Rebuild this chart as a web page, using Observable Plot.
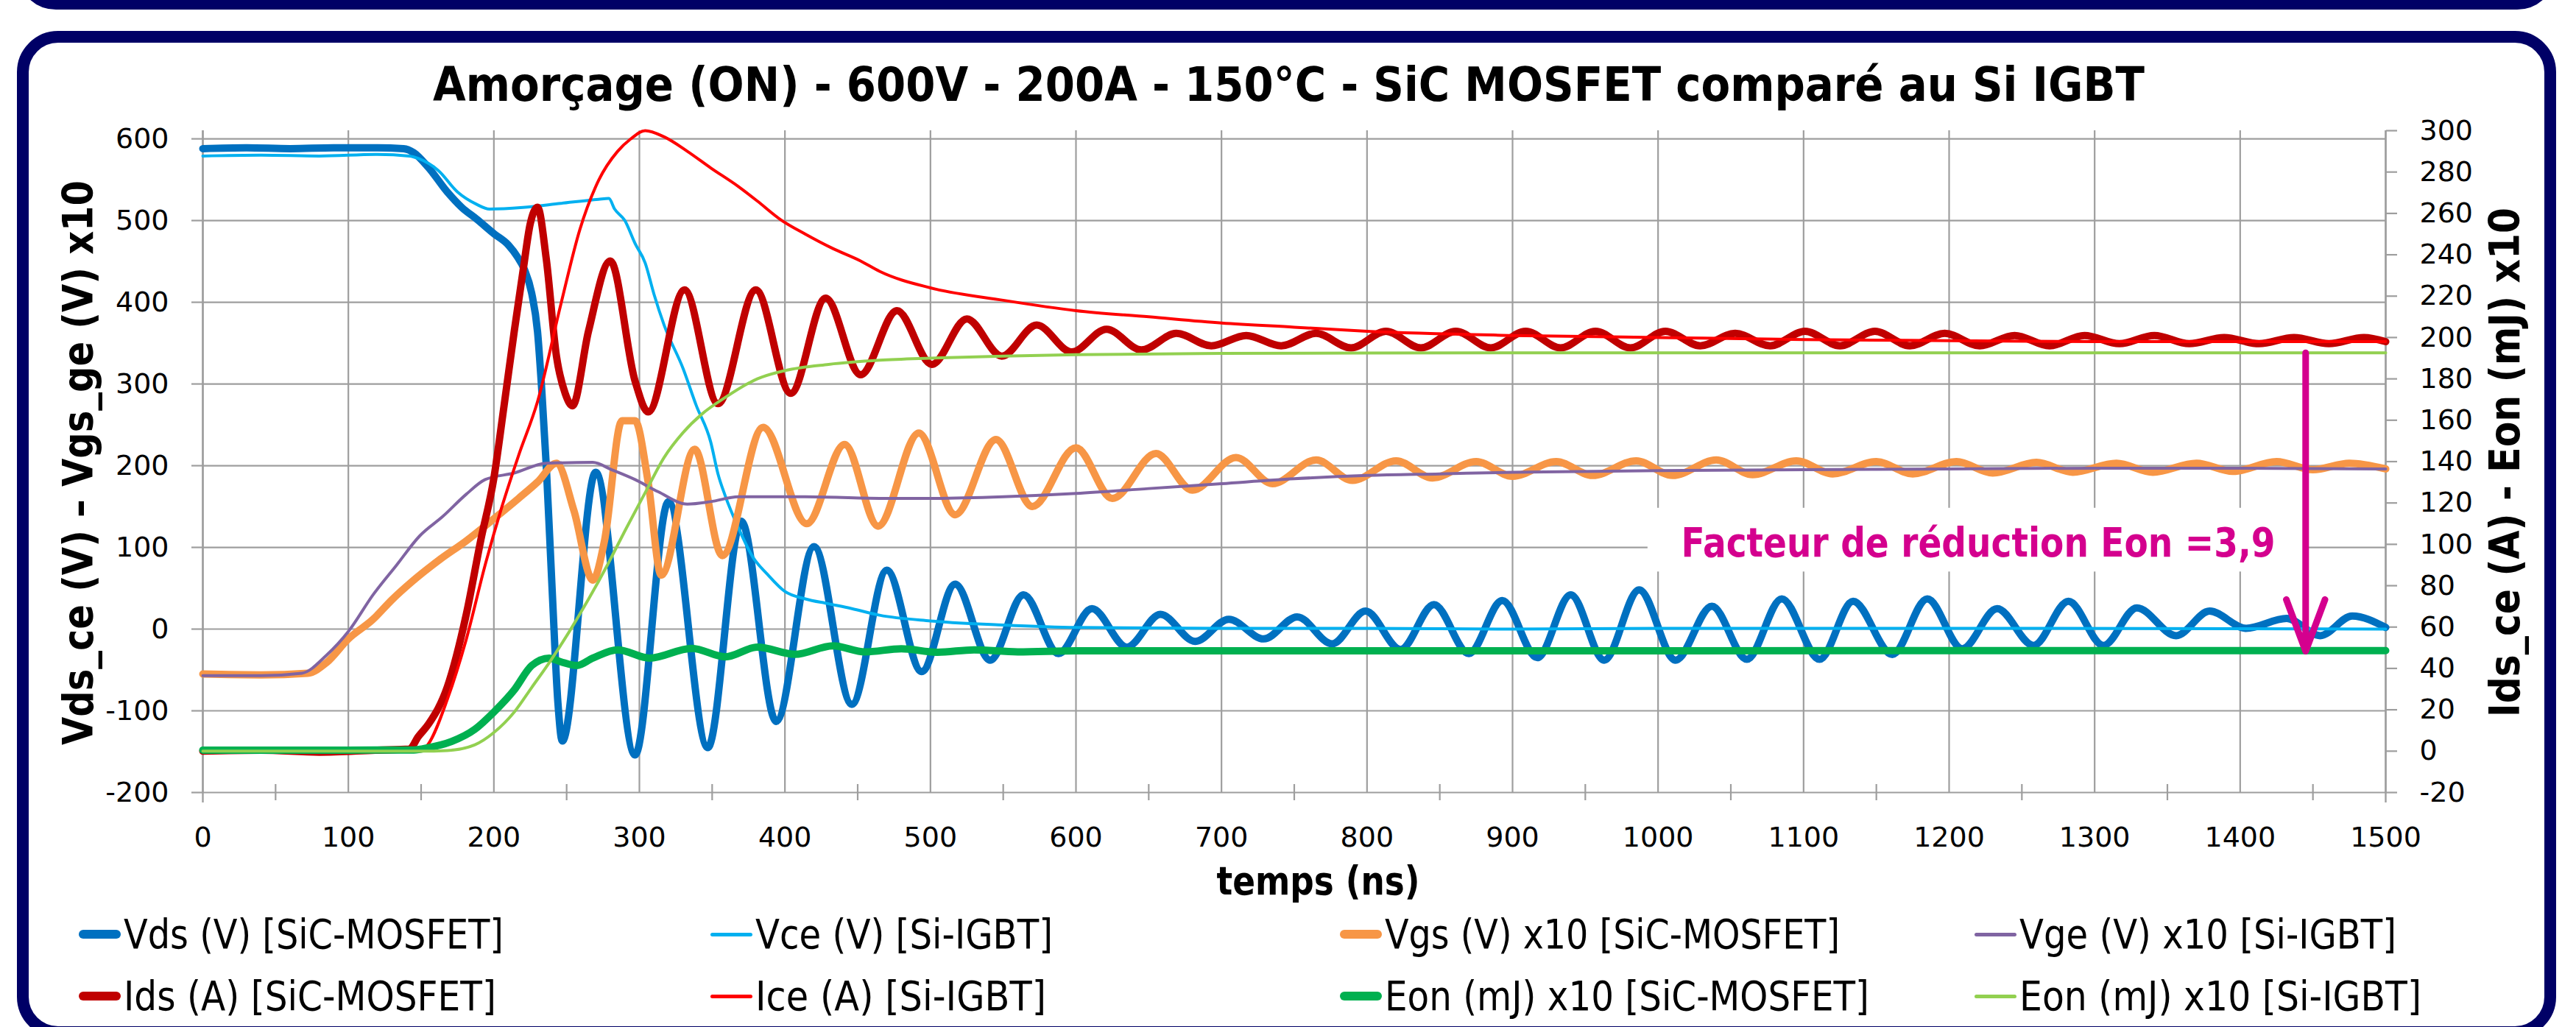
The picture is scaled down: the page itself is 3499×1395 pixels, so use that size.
<!DOCTYPE html>
<html>
<head>
<meta charset="utf-8">
<script src="https://cdn.jsdelivr.net/npm/d3@7"></script>
<script src="https://cdn.jsdelivr.net/npm/@observablehq/plot@0.6"></script>
<style>
html, body { margin: 0; padding: 0; background: #fff; }
#page { position: relative; width: 3499px; height: 1395px; overflow: hidden; background: #fff; font-family: "DejaVu Sans", sans-serif; }
#chart { position: absolute; left: 0; top: 0; }
.box { position: absolute; box-sizing: border-box; border: 16px solid #000066; pointer-events: none; }
.leg { position: absolute; height: 70px; line-height: 70px; display: flex; align-items: center; white-space: nowrap; font-size: 55px; color: #000; }
.sw { display: inline-block; width: 57px; border-radius: 6px; margin-right: 4px; flex: none; }
.lab { display: inline-block; transform-origin: 0 50%; }
</style>
</head>
<body>
<div id="page">
  <div id="chart"></div>
  <div class="box" style="left:23px;top:-300px;width:3449px;height:313px;border-radius:53px;"></div>
  <div class="box" style="left:23px;top:42px;width:3449px;height:1368px;border-radius:56px;"></div>
  <div id="legend"></div>
</div>
<script>
// ---------- tick values ----------
const xTicks = [0, 100, 200, 300, 400, 500, 600, 700, 800, 900, 1000, 1100, 1200, 1300, 1400, 1500];
const xMinorTicks = [50, 150, 250, 350, 450, 550, 650, 750, 850, 950, 1050, 1150, 1250, 1350, 1450];
const yLeftTicks = [-200, -100, 0, 100, 200, 300, 400, 500, 600];
const yRightTicks = [-20, 0, 20, 40, 60, 80, 100, 120, 140, 160, 180, 200, 220, 240, 260, 280, 300];

// ---------- texts ----------
const titleText = "Amorçage (ON) - 600V - 200A - 150°C - SiC MOSFET comparé au Si IGBT";
const xLabel = "temps (ns)";
const yLeftLabel = "Vds_ce (V) – Vgs_ge (V) x10";
const yRightLabel = "Ids_ce (A) - Eon (mJ) x10";
const annotationText = "Facteur de réduction Eon =3,9";

// ---------- series [time ns, value] ----------
// left axis (V, V x10)
const vds = [[0,588],[30,589],[60,588],[90,589],[120,589],[138,588],[145,583],[155,565],[168,535],[178,516],[188,502],[200,484],[210,470],[216,456],[221,440],[226,411],[230,364],[233,290],[236,200],[240,50],[244,-90],[247,-137],[270,192],[297,-154],[320,156],[347,-145],[370,132],[394,-113],[420,101],[446,-92],[470,72],[494,-52],[517,55],[541,-38],[564,42],[588,-30],[611,25],[635,-22],[658,18],[682,-15],[705,12],[729,-12],[752,15],[776,-18],[799,22],[823,-25],[846,30],[870,-30],[893,35],[917,-35],[940,42],[963,-38],[987,48],[1012,-38],[1037,28],[1061,-37],[1085,37],[1111,-37],[1134,34],[1161,-31],[1185,37],[1209,-24],[1233,25],[1258,-20],[1282,34],[1306,-20],[1329,26],[1356,-8],[1379,22],[1404,1],[1432,13],[1455,-8],[1477,16],[1500,2]];
const vce = [[0,579],[40,580],[80,579],[120,581],[142,579],[148,576],[162,561],[175,535],[188,520],[197,514],[220,516],[246,521],[272,526],[279,527],[283,514],[290,500],[297,472],[304,448],[310,410],[317,372],[330,319],[339,274],[349,229],[354,190],[359,163],[368,124],[378,88],[388,67],[400,46],[414,37],[430,31],[446,25],[465,17],[500,10],[550,5],[600,2],[700,1],[800,1],[900,0],[1000,1],[1200,1],[1500,0]];
const vgs = [[0,-55],[40,-56],[72,-54],[85,-41],[100,-12],[117,12],[130,36],[143,57],[162,84],[181,108],[200,135],[217,160],[230,180],[243,203],[255,145],[268,60],[276,108],[288,255],[297,255],[306,180],[315,66],[338,220],[357,90],[385,247],[415,129],[441,226],[464,126],[492,240],[517,140],[545,232],[570,150],[600,222],[625,160],[655,215],[680,170],[710,210],[735,178],[765,207],[790,182],[820,206],[845,185],[875,205],[900,187],[930,205],[955,188],[985,206],[1010,188],[1040,207],[1065,189],[1095,206],[1120,190],[1150,205],[1175,190],[1205,205],[1230,191],[1260,204],[1285,192],[1315,203],[1340,192],[1370,203],[1395,193],[1425,205],[1450,195],[1475,203],[1500,196]];
const vge = [[0,-57],[40,-57],[68,-54],[85,-32],[100,-3],[117,42],[133,78],[149,114],[165,138],[181,165],[194,183],[214,191],[236,203],[268,204],[281,195],[297,183],[313,168],[333,153],[349,156],[368,162],[414,162],[465,160],[500,160],[550,162],[600,166],[650,172],[700,178],[750,184],[800,188],[850,190],[900,192],[1000,194],[1100,195],[1200,196],[1300,197],[1400,197],[1500,196]];
// right axis (A, mJ x10)
const ids = [[0,0],[40,0.5],[80,-0.5],[120,0.5],[142,1],[148,7],[155,13],[168,31],[181,66],[191,102],[200,132],[207,167],[214,203],[220,232],[225,255],[230,263],[236,238],[243,191],[249,173],[254,167],[265,203],[280,237],[297,179],[306,164],[331,223],[354,168],[380,223],[404,173],[428,219],[452,182],[477,213],[501,187],[525,209],[549,191],[573,206],[597,193],[621,204],[645,194],[669,202],[693,196],[717,201],[741,196],[765,202],[789,195],[813,203],[837,195],[861,203],[885,195],[909,203],[933,195],[957,203],[981,195],[1005,203],[1029,196],[1053,202],[1077,196],[1101,203],[1125,196],[1149,203],[1173,196],[1197,202],[1221,196],[1245,201],[1269,196],[1293,201],[1317,197],[1341,201],[1365,197],[1389,200],[1413,197],[1437,200],[1461,197],[1485,200],[1500,198]];
const ice = [[0,0],[50,0.5],[100,-0.5],[150,0],[155,3.5],[168,25],[181,54],[194,90],[205,117],[217,143],[230,169],[246,216],[259,252],[272,276],[285,290],[294,296],[304,300],[317,297],[333,290],[349,282],[368,273],[381,266],[397,257],[414,250],[433,243],[452,237],[465,232],[500,224],[550,218],[600,213],[650,210],[700,207],[750,205],[800,203],[900,201],[1000,200],[1100,199],[1200,198.5],[1300,198],[1400,198],[1500,198]];
const eonSic = [[0,0.5],[100,0.5],[145,0.6],[155,1.7],[171,4.7],[187,10.6],[200,18.9],[214,29.6],[226,41.4],[238,45],[246,43.2],[257,41.4],[268,45],[285,49],[307,45],[336,49.7],[359,45.6],[381,50.3],[407,46.8],[433,50.9],[455,48],[480,49.5],[505,47.8],[530,49],[560,48],[600,48.5],[700,48.5],[800,48.5],[1000,48.5],[1200,48.6],[1500,48.6]];
const eonIgbt = [[0,0],[150,0],[168,0.3],[187,3.1],[200,9],[214,18.9],[226,30.8],[239,43.8],[252,58],[265,73.4],[278,90],[291,107.8],[304,125],[317,142],[330,154],[343,163],[359,171],[381,180],[400,184],[430,187],[465,189],[500,190],[550,191],[600,191.7],[700,192.3],[800,192.5],[1000,192.6],[1500,192.6]];

const series = [
  {name: "Vds (V) [SiC-MOSFET]", data: vds, axis: "left", color: "#0070C0", width: 10, legendW: 516},
  {name: "Vce (V) [Si-IGBT]", data: vce, axis: "left", color: "#00B0F0", width: 4, legendW: 404},
  {name: "Vgs (V) x10 [SiC-MOSFET]", data: vgs, axis: "left", color: "#F79646", width: 10, legendW: 618},
  {name: "Vge (V) x10 [Si-IGBT]", data: vge, axis: "left", color: "#8064A2", width: 4, legendW: 512},
  {name: "Ids (A) [SiC-MOSFET]", data: ids, axis: "right", color: "#C00000", width: 10, legendW: 506},
  {name: "Ice (A) [Si-IGBT]", data: ice, axis: "right", color: "#FF0000", width: 4, legendW: 395},
  {name: "Eon (mJ) x10 [SiC-MOSFET]", data: eonSic, axis: "right", color: "#00B050", width: 10, legendW: 658},
  {name: "Eon (mJ) x10 [Si-IGBT]", data: eonIgbt, axis: "right", color: "#92D050", width: 4, legendW: 546}
];

// ---------- scales: left axis -200..600, right axis -20..300 sharing the frame ----------
const leftMin = -200, rightMin = -20, rightMax = 300;
const frameTop = 610; // left-unit value at top of the plot frame (right axis 300)
const toLeft = r => leftMin + (r - rightMin) * (frameTop - leftMin) / (rightMax - rightMin);
const fromLeft = l => rightMin + (l - leftMin) * (rightMax - rightMin) / (frameTop - leftMin);

const W = 3499, H = 1395;
const mL = 275, mR = 259, mT = 177, mB = 319;
const pxPerUnit = (H - mT - mB) / (frameTop - leftMin);
const gray = "#9e9e9e";
const magenta = "#D4008E";

// annotation (data units)
const annotation = {x: 1220, y: 105, text: annotationText};
const annotationBox = {x1: 993, x2: 1447, y1: 70, y2: 148};
const arrowX = 1445;
const arrowSpec = [{x: arrowX, from: eonIgbt[eonIgbt.length - 1][1], to: eonSic[eonSic.length - 1][1] - 0.3}];

const chart = Plot.plot({
  width: W, height: H,
  marginLeft: mL, marginRight: mR, marginTop: mT, marginBottom: mB,
  x: {domain: [0, 1500], axis: null},
  y: {domain: [leftMin, frameTop], axis: null},
  style: {fontFamily: "DejaVu Sans", fontSize: "38px", background: "transparent", overflow: "visible", color: "#000"},
  marks: [
    // grid
    Plot.ruleY(yLeftTicks, {stroke: gray, strokeWidth: 2.2}),
    Plot.ruleX(xTicks, {y1: leftMin, y2: frameTop, stroke: gray, strokeWidth: 2.2}),
    Plot.ruleX([0, 1500], {y1: leftMin - 14 / pxPerUnit, y2: frameTop, stroke: gray, strokeWidth: 2.4}),
    Plot.ruleX(xMinorTicks, {y1: leftMin - 11 / pxPerUnit, y2: leftMin + 11 / pxPerUnit, stroke: gray, strokeWidth: 2.2}),
    // axes
    Plot.axisY(yLeftTicks, {anchor: "left", tickSize: 15, tickPadding: 31, stroke: gray, strokeWidth: 2.2, fontSize: 38, tickFormat: d => String(d), label: null}),
    Plot.axisY(yRightTicks.map(toLeft), {anchor: "right", tickSize: 15, tickPadding: 31, stroke: gray, strokeWidth: 2.2, fontSize: 38, tickFormat: d => String(Math.round(fromLeft(d))), label: null}),
    Plot.axisX(xTicks, {anchor: "bottom", tickSize: 0, tickPadding: 47, fontSize: 38, tickFormat: d => String(d), label: null}),
    // annotation background
    Plot.rect([annotationBox], {x1: "x1", x2: "x2", y1: "y1", y2: "y2", fill: "white"}),
    // series
    ...series.map(s => Plot.line(s.data, {
      x: d => d[0],
      y: d => s.axis === "left" ? d[1] : toLeft(d[1]),
      stroke: s.color, strokeWidth: s.width, curve: "monotone-x",
      strokeLinejoin: "round", strokeLinecap: "round"
    })),
    // annotation
    Plot.text([annotation], {x: "x", y: "y", text: "text", fill: magenta, fontSize: 55, fontWeight: "bold", textAnchor: "middle", lineAnchor: "middle"}),
    Plot.arrow(arrowSpec, {x1: "x", x2: "x", y1: d => toLeft(d.from), y2: d => toLeft(d.to), stroke: magenta, strokeWidth: 9, headLength: 12.5, headAngle: 41}),
    // titles
    Plot.text([titleText], {text: d => d, frameAnchor: "top", textAnchor: "middle", lineAnchor: "middle", dx: -7.5, dy: -60.5, fontSize: 64, fontWeight: "bold", fill: "#000"}),
    Plot.text([yLeftLabel], {text: d => d, frameAnchor: "left", textAnchor: "middle", lineAnchor: "middle", rotate: -90, dx: -168, dy: 1.5, fontSize: 57, fontWeight: "bold", fill: "#000"}),
    Plot.text([yRightLabel], {text: d => d, frameAnchor: "right", textAnchor: "middle", lineAnchor: "middle", rotate: -90, dx: 163, dy: 1, fontSize: 57, fontWeight: "bold", fill: "#000"}),
    Plot.text([xLabel], {text: d => d, frameAnchor: "bottom", textAnchor: "middle", lineAnchor: "middle", dx: 32.5, dy: 121.7, fontSize: 54, fontWeight: "bold", fill: "#000"})
  ]
});
document.getElementById("chart").appendChild(chart);

// fit text lengths to the reference
const textTargets = new Map([[titleText, 2325], [yLeftLabel, 767], [yRightLabel, 692], [xLabel, 276], [annotationText, 807]]);
chart.querySelectorAll("text").forEach(t => {
  const w = textTargets.get(t.textContent);
  if (w) { t.setAttribute("textLength", w); t.setAttribute("lengthAdjust", "spacingAndGlyphs"); }
});

// ---------- legend ----------
const legendCols = [107, 965, 1820, 2682];
const legendRows = [1234, 1318];
const legend = document.getElementById("legend");
series.forEach((s, i) => {
  const item = document.createElement("div");
  item.className = "leg";
  item.style.left = legendCols[i % 4] + "px";
  item.style.top = legendRows[Math.floor(i / 4)] + "px";
  const sw = document.createElement("span");
  sw.className = "sw";
  sw.style.background = s.color;
  sw.style.height = (s.width >= 10 ? 12 : 5) + "px";
  const lab = document.createElement("span");
  lab.className = "lab";
  lab.textContent = s.name;
  item.appendChild(sw); item.appendChild(lab);
  legend.appendChild(item);
  const nat = lab.getBoundingClientRect().width;
  if (nat > 0) lab.style.transform = `scaleX(${s.legendW / nat})`;
});
</script>
</body>
</html>
